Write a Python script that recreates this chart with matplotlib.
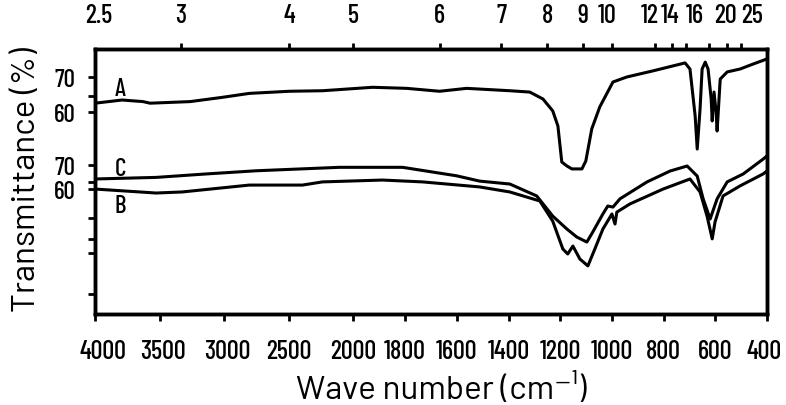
import numpy as np
import matplotlib
matplotlib.use("Agg")
import matplotlib.pyplot as plt
from matplotlib.transforms import ScaledTranslation

# ---------------- data ----------------
# wave numbers (cm^-1) and plotted (offset) transmittance values
wn_A = [4000, 3791, 3628, 3574, 3264, 3016, 2806, 2496, 2240, 1926, 1794, 1667,
        1562, 1395, 1318, 1267, 1229, 1209, 1194, 1174, 1155, 1116, 1101, 1078,
        1047, 996, 942, 841, 717, 698, 678, 670, 659, 651, 639, 628, 616, 612,
        605, 597, 593, 581, 554, 504, 453, 400]
tr_A = [80.3, 81.5, 80.9, 80.3, 80.9, 82.5, 84.0, 84.8, 85.0, 86.3, 85.9, 84.8,
        85.9, 85.0, 84.5, 81.9, 77.4, 71.7, 58.1, 56.6, 55.5, 55.5, 58.5, 70.6,
        78.9, 88.3, 90.2, 92.5, 95.5, 93.2, 75.5, 63.0, 78.1, 93.2, 95.8, 93.2,
        81.9, 73.6, 84.5, 77.0, 69.8, 89.4, 92.1, 93.2, 95.1, 97.0]

wn_C = [4000, 3527, 3140, 2752, 2109, 1810, 1601, 1512, 1395, 1291, 1229, 1174,
        1136, 1097, 1074, 1035, 1016, 996, 969, 864, 775, 709, 670, 647, 620,
        593, 554, 492, 415, 400]
tr_C = [51.7, 52.3, 53.6, 54.8, 56.1, 56.1, 52.9, 50.9, 49.8, 45.3, 37.7, 32.8,
        29.8, 27.9, 31.7, 38.5, 41.5, 41.1, 44.2, 50.6, 54.7, 56.6, 52.8, 44.2,
        36.6, 44.2, 50.6, 53.6, 59.2, 60.4]

wn_B = [4000, 3527, 3326, 2806, 2395, 2240, 1888, 1733, 1512, 1395, 1279, 1229,
        1190, 1171, 1151, 1124, 1093, 1066, 1035, 1000, 988, 981, 930, 802, 698,
        659, 632, 612, 601, 570, 504, 415, 400]
tr_B = [47.9, 46.4, 46.8, 49.4, 49.4, 50.6, 51.3, 50.6, 48.7, 46.8, 43.4, 35.8,
        25.3, 23.4, 26.4, 21.5, 18.9, 25.3, 32.8, 38.5, 34.7, 39.2, 42.3, 47.9, 51.7,
        46.8, 37.7, 29.1, 35.5, 45.3, 49.1, 53.6, 54.7]

curve_names = ["A", "C", "B"]
name_wn = [3806, 3806, 3806]
name_tr = [85.8, 55.7, 41.7]

wn_ticks = [4000, 3500, 3000, 2500, 2000, 1800, 1600, 1400, 1200, 1000, 800, 600, 400]
um_ticks = [2.5, 3, 4, 5, 6, 7, 8, 9, 10, 12, 14, 16, 20, 25]
um_minor = [13, 18]
y_major_pos = [90.2, 77.0, 57.0, 47.9]
y_major_lab = ["70", "60", "70", "60"]
y_minor_pos = [83.0, 50.6, 37.0, 29.1, 23.8, 8.3]

# label nudges in pixels (layout only, as printed on the original chart)
wn_label_shift = {"4000": 8, "3500": 3, "3000": 3, "400": -3}
um_label_shift = {"2.5": 4, "10": -5, "12": -5, "14": -16, "16": -14, "20": -16, "25": -15}

# ---------------- scale: 2x expansion below 2000 cm^-1 ----------------
def fwd(w):
    w = np.asarray(w, dtype=float)
    return np.where(w >= 2000, w, 2.0 * w - 2000.0)

def inv(p):
    p = np.asarray(p, dtype=float)
    return np.where(p >= 2000, p, (p + 2000.0) / 2.0)

NARROW = ["Barlow Condensed", "Liberation Sans", "DejaVu Sans"]
WIDE = ["Barlow", "Liberation Sans", "DejaVu Sans"]
plt.rcParams["font.family"] = NARROW
plt.rcParams["font.weight"] = "medium"

fig = plt.figure(figsize=(7.86, 4.06), dpi=100)
ax = fig.add_axes([95 / 786, 1 - 315 / 406, (767 - 95) / 786, (315 - 50) / 406])

for w, t in [(wn_A, tr_A), (wn_C, tr_C), (wn_B, tr_B)]:
    ax.plot(w, t, color="black", lw=2.2, solid_joinstyle="round", solid_capstyle="round")

for n, w, t in zip(curve_names, name_wn, name_tr):
    ax.text(w, t, n, fontsize=18, ha="center", va="center", family=NARROW,
            fontweight="medium")

ax.set_xscale("function", functions=(fwd, inv))
ax.set_xlim(4000, 400)
ax.set_ylim(0.75, 100.75)

ax.set_xticks(wn_ticks)
ax.set_xticklabels([str(v) for v in wn_ticks])
ax.tick_params(axis="x", which="major", direction="out", length=5, width=2,
               labelsize=19, pad=13)
ax.set_yticks(y_major_pos)
ax.set_yticklabels(y_major_lab)
ax.set_yticks(y_minor_pos, minor=True)
ax.tick_params(axis="y", which="both", direction="out", length=5, width=2,
               labelsize=18, pad=9)
ax.tick_params(right=False, top=False)
for tk in (ax.xaxis.get_major_ticks()[0], ax.xaxis.get_major_ticks()[-1]):
    tk.tick1line.set_visible(False)

for s in ax.spines.values():
    s.set_linewidth(2.5)

ax2 = ax.twiny()
ax2.set_xscale("function", functions=(fwd, inv))
ax2.set_xlim(4000, 400)
ax2.set_xticks([10000.0 / u for u in um_ticks])
ax2.set_xticklabels([("%g" % u) for u in um_ticks])
ax2.set_xticks([10000.0 / u for u in um_minor], minor=True)
ax2.tick_params(axis="x", which="both", direction="out", length=4, width=2,
                labelsize=19, pad=12)
for tk in (ax2.xaxis.get_major_ticks()[0], ax2.xaxis.get_major_ticks()[-1]):
    tk.tick2line.set_visible(False)
for s in ax2.spines.values():
    s.set_linewidth(2.5)

for tk in ax.xaxis.get_major_ticks():
    d = wn_label_shift.get(tk.label1.get_text(), 0)
    if d:
        tk.label1.set_transform(tk.label1.get_transform()
                                + ScaledTranslation(d / 100, 0, fig.dpi_scale_trans))
for tk in ax2.xaxis.get_major_ticks():
    d = um_label_shift.get(tk.label2.get_text(), 0)
    if d:
        tk.label2.set_transform(tk.label2.get_transform()
                                + ScaledTranslation(d / 100, 0, fig.dpi_scale_trans))

ax.set_xlabel("Wave number (cm\u207b\u00b9)", fontsize=24, family=WIDE)
ax.xaxis.set_label_coords(0.515, -0.222)
ax.set_ylabel("Transmittance (%)", fontsize=24, family=WIDE)
ax.yaxis.set_label_coords(-0.079, 0.51)

fig.savefig("out.png", dpi=100)
